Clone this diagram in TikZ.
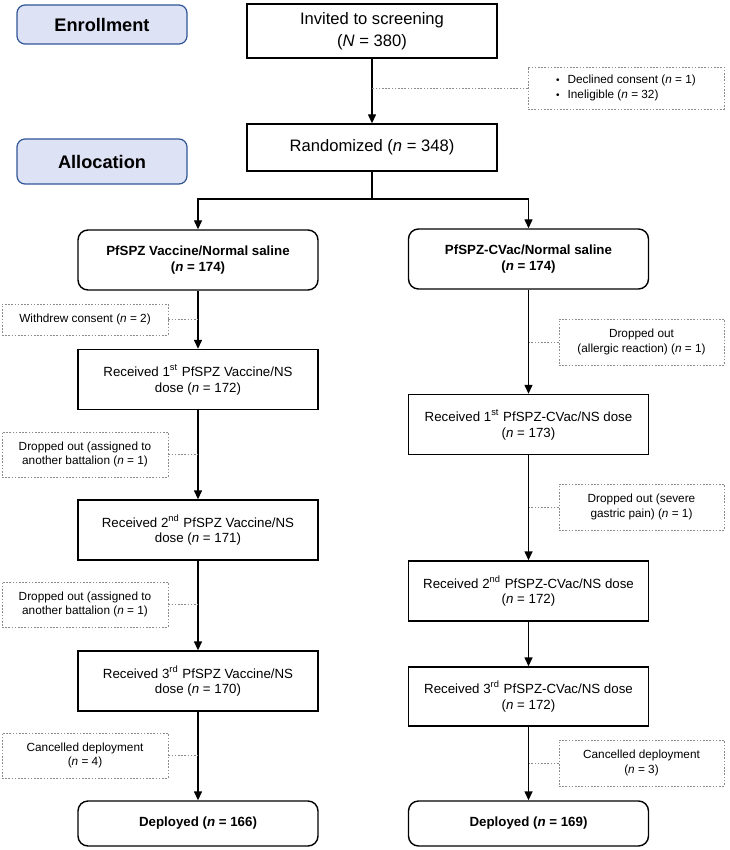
\documentclass[tikz,border=0pt]{standalone}
\usepackage{fontspec}
\setmainfont{Liberation Sans}
\usepackage{tikz}
\usetikzlibrary{arrows.meta, calc, positioning}

\definecolor{stageblue}{HTML}{2F5597}
\definecolor{stagefill}{HTML}{DDE2F4}
\definecolor{sidegray}{HTML}{8C8C8C}
\newcommand{\numn}{\textit{n}}

\tikzset{
    stage/.style={draw=stageblue, fill=stagefill, rounded corners=4pt, line width=0.6pt, minimum width=85pt, inner sep=1pt, font=\fontsize{9.1}{11}\selectfont\bfseries},
    mainbox/.style={draw, line width=0.7pt, minimum width=120pt, minimum height=30pt, inner sep=1pt, align=center, font=\fontsize{6.65}{7.85}\selectfont},
    topbox/.style={mainbox, minimum width=125pt, font=\fontsize{8.3}{10.8}\selectfont},
    armbox/.style={mainbox, rounded corners=5pt, font=\fontsize{6.65}{7.7}\selectfont\bfseries},
    sidebox/.style={draw=sidegray, dash pattern=on 0.8pt off 0.8pt, line width=0.45pt, minimum width=83pt, minimum height=22.5pt, inner sep=1pt, align=center, font=\fontsize{5.9}{7.2}\selectfont},
    flow/.style={draw, line width=0.7pt, -{Triangle[width=4pt,length=4.5pt]}},
    sideline/.style={draw=sidegray, dash pattern=on 0.8pt off 0.8pt, line width=0.45pt}
}

\begin{document}
\begin{tikzpicture}[x=0.5pt, y=-0.5pt]
    \useasboundingbox (0,0) rectangle (729,850);

    % stages
    \node[stage, minimum height=19.5pt] (enroll) at (102, 24.5) {Enrollment};
    \node[stage, minimum height=22.5pt] (alloc) at (102, 161.5) {Allocation};

    % screening
    \node[topbox, minimum height=27pt] (invited) at (372, 31) {Invited to screening\\(\textit{N} = 380)};
    \node[topbox, minimum height=23.5pt] (random) at (372, 147.5) {Randomized (\numn{} = 348)};
    \node[sidebox, minimum width=98pt, minimum height=21pt, align=left] (excl) at (626, 88)
        {{\tiny\textbullet}\hspace{4pt}Declined consent (\numn{} = 1)\\{\tiny\textbullet}\hspace{4pt}Ineligible (\numn{} = 32)};

    % arms
    \node[armbox] (armL) at (198, 260) {PfSPZ Vaccine/Normal saline\\(\numn{} = 174)};
    \node[armbox] (armR) at (528.5, 259) {PfSPZ-CVac/Normal saline\\(\numn{} = 174)};

    % left arm
    \node[sidebox, minimum height=15.5pt] (withdrew) at (85, 319.5) {Withdrew consent (\numn{} = 2)};
    \node[mainbox] (recL1) at (198, 379.5) {Received 1\textsuperscript{st} PfSPZ Vaccine/NS\\dose (\numn{} = 172)};
    \node[sidebox] (dropL1) at (85, 454.5) {Dropped out (assigned to\\another battalion (\numn{} = 1)};
    \node[mainbox] (recL2) at (198, 530) {Received 2\textsuperscript{nd} PfSPZ Vaccine/NS\\dose (\numn{} = 171)};
    \node[sidebox] (dropL2) at (85, 604.5) {Dropped out (assigned to\\another battalion (\numn{} = 1)};
    \node[mainbox] (recL3) at (198, 681) {Received 3\textsuperscript{rd} PfSPZ Vaccine/NS\\dose (\numn{} = 170)};
    \node[sidebox] (cancL) at (85, 755.5) {Cancelled deployment\\(\numn{} = 4)};
    \node[armbox, minimum height=22.5pt] (depL) at (198, 823.5) {Deployed (\numn{} = 166)};

    % right arm
    \node[sidebox, minimum width=82.5pt, minimum height=23pt] (allergic) at (641.5, 342) {Dropped out\\(allergic reaction) (\numn{} = 1)};
    \node[mainbox] (recR1) at (528.5, 424.5) {Received 1\textsuperscript{st} PfSPZ-CVac/NS dose\\(\numn{} = 173)};
    \node[sidebox, minimum width=82.5pt, minimum height=23pt] (severe) at (641.5, 507) {Dropped out (severe\\gastric pain) (\numn{} = 1)};
    \node[mainbox] (recR2) at (528.5, 591) {Received 2\textsuperscript{nd} PfSPZ-CVac/NS dose\\(\numn{} = 172)};
    \node[mainbox, minimum height=29.5pt] (recR3) at (528.5, 696.5) {Received 3\textsuperscript{rd} PfSPZ-CVac/NS dose\\(\numn{} = 172)};
    \node[sidebox, minimum width=82.5pt, minimum height=23pt] (cancR) at (641.5, 763) {Cancelled deployment\\(\numn{} = 3)};
    \node[armbox, minimum height=22.5pt] (depR) at (528.5, 823.5) {Deployed (\numn{} = 169)};

    % flow
    \coordinate (split) at (372, 199);
    \draw[flow] (invited) -- (random);
    \draw[line width=0.7pt] (random) -- (split);
    \draw[flow] (split) -| (armL);
    \draw[flow] (split) -| (armR);
    \draw[flow] (armL) -- (recL1);
    \draw[flow] (recL1) -- (recL2);
    \draw[flow] (recL2) -- (recL3);
    \draw[flow] (recL3) -- (depL);
    \draw[flow] (armR) -- (recR1);
    \draw[flow] (recR1) -- (recR2);
    \draw[flow] (recR2) -- (recR3);
    \draw[flow] (recR3) -- (depR);

    % exclusions
    \draw[sideline] (excl.west) -- (excl -| invited);
    \draw[sideline] (withdrew.east) -- (withdrew -| recL1);
    \draw[sideline] (dropL1.east) -- (dropL1 -| recL1);
    \draw[sideline] (dropL2.east) -- (dropL2 -| recL2);
    \draw[sideline] (cancL.east) -- (cancL -| recL3);
    \draw[sideline] (allergic.west) -- (allergic -| recR1);
    \draw[sideline] (severe.west) -- (severe -| recR2);
    \draw[sideline] (cancR.west) -- (cancR -| recR3);
\end{tikzpicture}
\end{document}
